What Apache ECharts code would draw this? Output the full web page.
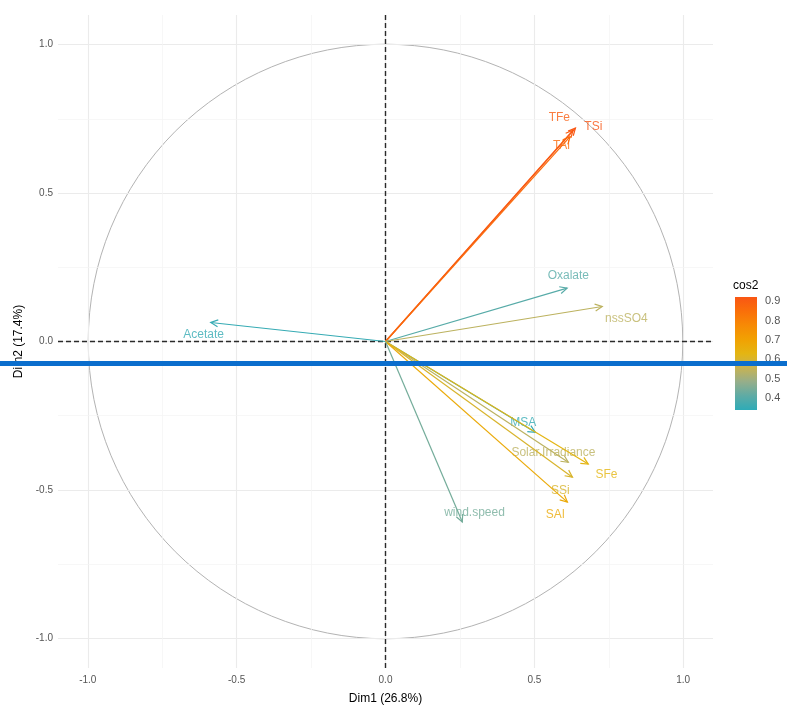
<!DOCTYPE html>
<html>
<head>
<meta charset="utf-8">
<script src="https://cdn.jsdelivr.net/npm/echarts@6/dist/echarts.min.js"></script>
<style>
  html, body { margin: 0; padding: 0; background: #fff; }
  #chart { width: 787px; height: 710px; }
</style>
</head>
<body>
<div id="chart"></div>
<script>
// variable coordinates on Dim1 / Dim2, with cos2 and label anchor positions (data units)
const varNames = ['TFe', 'TSi', 'TAl', 'Oxalate', 'nssSO4', 'Acetate', 'MSA', 'Solar.Irradiance', 'SFe', 'SSi', 'SAl', 'wind.speed'];
const dim1 = [0.630, 0.638, 0.620, 0.610, 0.728, -0.587, 0.503, 0.614, 0.681, 0.628, 0.611, 0.258];
const dim2 = [0.712, 0.719, 0.690, 0.180, 0.118, 0.064, -0.306, -0.407, -0.413, -0.457, -0.541, -0.608];
const cos2 = [0.90, 0.93, 0.86, 0.40, 0.54, 0.35, 0.35, 0.54, 0.63, 0.60, 0.67, 0.44];
const labelX = [0.584, 0.698, 0.591, 0.614, 0.809, -0.611, 0.463, 0.564, 0.742, 0.587, 0.570, 0.299];
const labelY = [0.753, 0.723, 0.659, 0.222, 0.077, 0.024, -0.272, -0.373, -0.450, -0.501, -0.585, -0.578];

const xTicks = [-1.0, -0.5, 0.0, 0.5, 1.0];
const yTicks = [-1.0, -0.5, 0.0, 0.5, 1.0];
const cosTicks = [0.4, 0.5, 0.6, 0.7, 0.8, 0.9];
const cosRange = [0.338, 0.922];
// teal -> yellow -> orange, interpolated like ggplot (muted in the lower half)
const gradCols = ['#2eabb7', '#5eaba5', '#96ae8a', '#c8b352', '#e4b512', '#f1a102', '#f78a05', '#fa6f09', '#f95614'];

const FONT = 'Liberation Sans, Arial, sans-serif';

function midpoints(arr) {
    let out = [];
    for (let i = 0; i < arr.length - 1; i++) out.push((arr[i] + arr[i + 1]) / 2);
    return out;
}

const arrowData = varNames.map((n, i) => [dim1[i], dim2[i], cos2[i], labelX[i], labelY[i], n]);

const majorLine = { color: '#ebebeb', width: 1.1, type: 'solid' };
const minorLine = { color: '#f3f3f3', width: 0.7, type: 'solid' };

const gridLines = [];
xTicks.forEach(v => gridLines.push({ xAxis: v, lineStyle: majorLine }));
yTicks.forEach(v => gridLines.push({ yAxis: v, lineStyle: majorLine }));
midpoints(xTicks).forEach(v => gridLines.push({ xAxis: v, lineStyle: minorLine }));
midpoints(yTicks).forEach(v => gridLines.push({ yAxis: v, lineStyle: minorLine }));

const chart = echarts.init(document.getElementById('chart'), null, { renderer: 'canvas' });

const option = {
    backgroundColor: '#fff',
    animation: false,
    grid: [
        { left: 58, right: 74, top: 15, bottom: 41 },
        { left: 735, top: 297, width: 22, height: 113 }
    ],
    xAxis: [
        {
            type: 'value', gridIndex: 0, min: -1.1, max: 1.1,
            axisLine: { show: false },
            axisTick: { show: true, customValues: xTicks, length: 3, lineStyle: { color: '#333' } },
            axisLabel: { customValues: xTicks, formatter: v => v.toFixed(1), color: '#555', fontSize: 10, fontFamily: FONT, margin: 7 },
            splitLine: { show: false },
            name: 'Dim1 (26.8%)', nameLocation: 'middle', nameGap: 25,
            nameTextStyle: { color: '#000', fontSize: 12, fontFamily: FONT }
        },
        {
            type: 'value', gridIndex: 1, min: 0, max: 1, show: false
        }
    ],
    yAxis: [
        {
            type: 'value', gridIndex: 0, min: -1.1, max: 1.1,
            axisLine: { show: false },
            axisTick: { show: true, customValues: yTicks, length: 3, lineStyle: { color: '#333' } },
            axisLabel: { customValues: yTicks, formatter: v => v.toFixed(1), color: '#555', fontSize: 10, fontFamily: FONT, margin: 5 },
            splitLine: { show: false },
            name: 'Dim2 (17.4%)', nameLocation: 'middle', nameGap: 33, nameRotate: 90,
            nameTextStyle: { color: '#000', fontSize: 12, fontFamily: FONT }
        },
        {
            type: 'value', gridIndex: 1, min: cosRange[0], max: cosRange[1], position: 'right',
            axisLine: { show: false },
            axisTick: { show: true, inside: true, customValues: cosTicks, length: 4, lineStyle: { color: '#fff', width: 1 } },
            axisLabel: { customValues: cosTicks, formatter: v => v.toFixed(1), color: '#555', fontSize: 11, fontFamily: FONT, margin: 8 },
            splitLine: { show: false }
        },
        {
            type: 'value', gridIndex: 1, min: cosRange[0], max: cosRange[1], position: 'left',
            axisLine: { show: false },
            axisTick: { show: true, inside: true, customValues: cosTicks, length: 4, lineStyle: { color: '#fff', width: 1 } },
            axisLabel: { show: false },
            splitLine: { show: false }
        }
    ],
    visualMap: {
        type: 'continuous', show: false, seriesIndex: 2, dimension: 2,
        min: cosRange[0], max: cosRange[1],
        inRange: { color: gradCols }
    },
    series: [
        // grid lines, zero lines
        {
            type: 'line', xAxisIndex: 0, yAxisIndex: 0, data: [], silent: true,
            markLine: {
                symbol: 'none', silent: true, label: { show: false },
                data: gridLines.concat([
                    { xAxis: 0, lineStyle: { color: '#2a2a2a', width: 1.4, type: [5, 3] } },
                    { yAxis: 0, lineStyle: { color: '#2a2a2a', width: 1.4, type: [5, 3] } }
                ])
            }
        },
        // unit circle
        {
            type: 'custom', xAxisIndex: 0, yAxisIndex: 0, silent: true, z: 3,
            data: [[0, 0, 1]],
            renderItem(params, api) {
                const c = api.coord([api.value(0), api.value(1)]);
                const s = api.size([api.value(2), api.value(2)]);
                return {
                    type: 'circle',
                    shape: { cx: c[0], cy: c[1], r: (s[0] + s[1]) / 2 },
                    style: { fill: 'none', stroke: '#b3b3b3', lineWidth: 1 }
                };
            }
        },
        // arrows + labels
        {
            type: 'custom', xAxisIndex: 0, yAxisIndex: 0, z: 5,
            data: arrowData,
            renderItem(params, api) {
                const color = api.visual('color');
                const o = api.coord([0, 0]);
                const p = api.coord([api.value(0), api.value(1)]);
                const lp = api.coord([api.value(3), api.value(4)]);
                const ang = Math.atan2(p[1] - o[1], p[0] - o[0]);
                const hl = 8, spread = Math.PI / 7;
                const a1 = [p[0] - hl * Math.cos(ang - spread), p[1] - hl * Math.sin(ang - spread)];
                const a2 = [p[0] - hl * Math.cos(ang + spread), p[1] - hl * Math.sin(ang + spread)];
                return {
                    type: 'group',
                    children: [
                        { type: 'line', shape: { x1: o[0], y1: o[1], x2: p[0], y2: p[1] },
                          style: { stroke: color, lineWidth: 1.2 } },
                        { type: 'polyline', shape: { points: [a1, p, a2] },
                          style: { stroke: color, lineWidth: 1.2, fill: 'none' } },
                        { type: 'text', x: lp[0], y: lp[1],
                          style: { text: varNames[params.dataIndex], fill: color, fontSize: 12, fontFamily: FONT,
                                   align: 'center', verticalAlign: 'middle', opacity: 0.8 } }
                    ]
                };
            }
        },
        // colour bar
        {
            type: 'custom', xAxisIndex: 1, yAxisIndex: 1, silent: true, z: 2,
            data: [[0, cosRange[0], 1, cosRange[1]]],
            renderItem(params, api) {
                const lo = api.coord([api.value(0), api.value(1)]);
                const hi = api.coord([api.value(2), api.value(3)]);
                const stops = gradCols.map((c, i) => ({ offset: i / (gradCols.length - 1), color: c }));
                return {
                    type: 'rect',
                    shape: { x: lo[0], y: hi[1], width: hi[0] - lo[0], height: lo[1] - hi[1] },
                    style: { fill: new echarts.graphic.LinearGradient(0, 1, 0, 0, stops) }
                };
            }
        }
    ],
    graphic: [
        { type: 'text', left: 733, top: 280, z: 10,
          style: { text: 'cos2', fill: '#000', fontSize: 12, fontFamily: FONT } },
        { type: 'rect', left: 0, top: 361, z: 100,
          shape: { width: 787, height: 5 }, style: { fill: '#0b6ecd' } }
    ]
};

chart.setOption(option);
</script>
</body>
</html>
